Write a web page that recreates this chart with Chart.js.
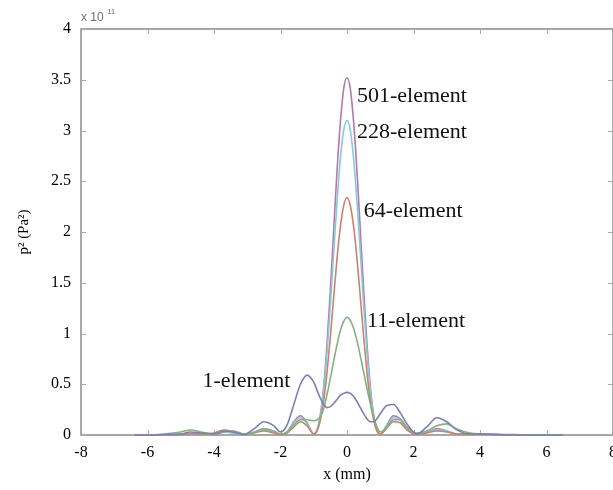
<!DOCTYPE html>
<html>
<head>
<meta charset="utf-8">
<script src="https://cdn.jsdelivr.net/npm/chart.js@4.4.1/dist/chart.umd.min.js"></script>
<style>
  html, body { margin: 0; padding: 0; background: #fff; }
  #wrap { width: 613px; height: 490px; }
</style>
</head>
<body>
<div id="wrap"><canvas id="c" width="613" height="490"></canvas></div>
<script>
// x positions (mm) shared by every curve
const xs = [-6.4, -6.0, -5.5, -5.0, -4.7, -4.4, -4.0, -3.7, -3.4, -3.1, -2.8, -2.5, -2.2, -2.0, -1.8, -1.6, -1.4, -1.2, -1.0, -0.9,
  -0.8, -0.7, -0.6, -0.5, -0.4, -0.3, -0.2, -0.1, 0, 0.1, 0.2, 0.3, 0.4, 0.5, 0.6, 0.7, 0.8, 0.9, 1.0, 1.2,
  1.4, 1.6, 1.8, 2.1, 2.4, 2.7, 3.0, 3.3, 3.7, 4.0, 4.5, 5.0, 5.5, 6.0, 6.5];

// p^2 values, units of 1e11 Pa^2
const p501 = [0, 0, 0, 0.005, 0.01, 0.01, 0.005, 0.03, 0.02, 0.005, 0.03, 0.06, 0.03, 0.005, 0.03, 0.13, 0.19, 0.12, 0.01, 0.05,
  0.2, 0.48, 0.9, 1.43, 2.02, 2.6, 3.08, 3.41, 3.52, 3.41, 3.08, 2.6, 2.02, 1.43, 0.9, 0.48, 0.2, 0.05, 0.005, 0.1,
  0.19, 0.16, 0.07, 0.005, 0.03, 0.06, 0.04, 0.01, 0.01, 0.01, 0.005, 0.005, 0, 0, 0];
const p228 = [0, 0, 0, 0.005, 0.01, 0.01, 0.01, 0.03, 0.02, 0.005, 0.03, 0.05, 0.03, 0.005, 0.03, 0.12, 0.17, 0.11, 0.01, 0.05,
  0.19, 0.45, 0.82, 1.28, 1.8, 2.3, 2.72, 3.0, 3.1, 3.0, 2.72, 2.3, 1.8, 1.28, 0.82, 0.45, 0.19, 0.05, 0.005, 0.09,
  0.17, 0.15, 0.06, 0.005, 0.03, 0.05, 0.04, 0.01, 0.01, 0.005, 0.005, 0, 0, 0, 0];
const p64 = [0, 0, 0, 0.005, 0.01, 0.01, 0.02, 0.05, 0.03, 0.005, 0.02, 0.04, 0.02, 0.005, 0.02, 0.08, 0.13, 0.09, 0.01, 0.04,
  0.15, 0.34, 0.62, 0.97, 1.36, 1.74, 2.05, 2.26, 2.34, 2.26, 2.05, 1.74, 1.36, 0.97, 0.62, 0.34, 0.15, 0.04, 0.01, 0.07,
  0.13, 0.12, 0.05, 0.005, 0.02, 0.04, 0.03, 0.01, 0.01, 0.005, 0.005, 0, 0, 0, 0];
const p11 = [0, 0, 0.01, 0.03, 0.05, 0.03, 0.01, 0.03, 0.04, 0.01, 0.02, 0.06, 0.04, 0.01, 0.03, 0.1, 0.15, 0.15, 0.14, 0.15,
  0.18, 0.26, 0.4, 0.56, 0.73, 0.89, 1.03, 1.12, 1.16, 1.13, 1.05, 0.93, 0.78, 0.62, 0.46, 0.31, 0.18, 0.08, 0.03, 0.08,
  0.15, 0.15, 0.08, 0.02, 0.04, 0.09, 0.11, 0.06, 0.02, 0.01, 0.005, 0, 0, 0, 0];
const p1 = [0, 0, 0.005, 0.01, 0.03, 0.02, 0.01, 0.04, 0.03, 0.005, 0.06, 0.13, 0.09, 0.03, 0.1, 0.3, 0.5, 0.59, 0.52, 0.44,
  0.36, 0.3, 0.27, 0.28, 0.31, 0.35, 0.39, 0.41, 0.42, 0.41, 0.38, 0.33, 0.27, 0.21, 0.16, 0.13, 0.13, 0.16, 0.21, 0.29,
  0.3, 0.22, 0.11, 0.01, 0.08, 0.17, 0.13, 0.05, 0.01, 0.01, 0.005, 0, 0, 0, 0];

const seriesNames = ['501-element', '228-element', '64-element', '11-element', '1-element'];
const seriesColors = ['#b27aa6', '#88cadc', '#c8836c', '#80b280', '#7e7eb6'];
const xTicks = [-8, -6, -4, -2, 0, 2, 4, 6, 8];
const yTicks = [0, 0.5, 1, 1.5, 2, 2.5, 3, 3.5, 4];

// where each curve name sits (data coords), and its alignment
const labelX = [0.3, 0.3, 0.5, 0.6, -1.7];
const labelY = [3.34, 2.98, 2.2, 1.12, 0.53];
const labelAlign = ['left', 'left', 'left', 'left', 'right'];

const allSeries = [p501, p228, p64, p11, p1];

const serif = '"Liberation Serif", "Times New Roman", serif';
const axisGray = '#a8a8a8';

const frame = {
  id: 'frame',
  beforeDatasetsDraw(chart) {
    const { ctx, chartArea: a, scales } = chart;
    ctx.save();
    ctx.strokeStyle = axisGray;
    ctx.lineWidth = 2;
    ctx.strokeRect(a.left, a.top, a.right - a.left, a.bottom - a.top);
    ctx.lineWidth = 1;
    ctx.beginPath();
    xTicks.forEach(v => {
      const px = Math.round(scales.x.getPixelForValue(v)) + 0.5;
      ctx.moveTo(px, a.bottom); ctx.lineTo(px, a.bottom - 5);
      ctx.moveTo(px, a.top); ctx.lineTo(px, a.top + 5);
    });
    yTicks.forEach(v => {
      const py = Math.round(scales.y.getPixelForValue(v)) + 0.5;
      ctx.moveTo(a.left, py); ctx.lineTo(a.left + 5, py);
      ctx.moveTo(a.right, py); ctx.lineTo(a.right - 5, py);
    });
    ctx.stroke();
    ctx.restore();
  },
  afterDraw(chart) {
    const { ctx, chartArea: a, scales } = chart;
    ctx.save();
    ctx.fillStyle = '#111';
    ctx.font = '22px ' + serif;
    ctx.textBaseline = 'middle';
    seriesNames.forEach((n, i) => {
      ctx.textAlign = labelAlign[i];
      ctx.fillText(n, scales.x.getPixelForValue(labelX[i]), scales.y.getPixelForValue(labelY[i]));
    });
    // exponent marker
    ctx.fillStyle = '#707070';
    ctx.textAlign = 'left';
    ctx.textBaseline = 'alphabetic';
    ctx.font = '12px "Liberation Sans", Arial, sans-serif';
    ctx.fillText('x 10', a.left, a.top - 8);
    ctx.font = '8px "Liberation Sans", Arial, sans-serif';
    ctx.fillText('11', a.left + 26, a.top - 15);
    ctx.restore();
  }
};

new Chart(document.getElementById('c'), {
  type: 'line',
  data: {
    datasets: allSeries.map((s, i) => ({
      label: seriesNames[i],
      data: xs.map((x, k) => ({ x: x, y: s[k] })),
      borderColor: seriesColors[i],
      borderWidth: 1.6,
      pointRadius: 0,
      fill: false,
      cubicInterpolationMode: 'monotone',
      clip: 4
    })).reverse()
  },
  options: {
    responsive: false,
    animation: false,
    layout: { padding: { top: 29, right: 0, left: 0, bottom: 0 } },
    plugins: { legend: { display: false }, tooltip: { enabled: false } },
    scales: {
      x: {
        type: 'linear',
        min: -8, max: 8,
        afterBuildTicks: s => { s.ticks = xTicks.map(v => ({ value: v })); },
        afterFit: s => { s.height = 55; s.paddingLeft = 0; s.paddingRight = 0; },
        grid: { display: false, drawTicks: false },
        border: { display: false },
        ticks: { padding: 8, color: '#000', font: { family: serif, size: 16 }, maxRotation: 0 },
        title: { display: true, text: 'x (mm)', color: '#000', font: { family: serif, size: 16 }, padding: { top: 2, bottom: 6 } }
      },
      y: {
        min: 0, max: 4,
        afterBuildTicks: s => { s.ticks = yTicks.map(v => ({ value: v })); },
        afterFit: s => { s.width = 81; s.paddingTop = 0; s.paddingBottom = 0; },
        grid: { display: false, drawTicks: false },
        border: { display: false },
        ticks: { padding: 10, color: '#000', font: { family: serif, size: 16 }, callback: v => String(v) },
        title: { display: true, text: 'p² (Pa²)', color: '#000', font: { family: serif, size: 15 }, padding: { top: 15, bottom: 10 } }
      }
    }
  },
  plugins: [frame]
});
</script>
</body>
</html>
